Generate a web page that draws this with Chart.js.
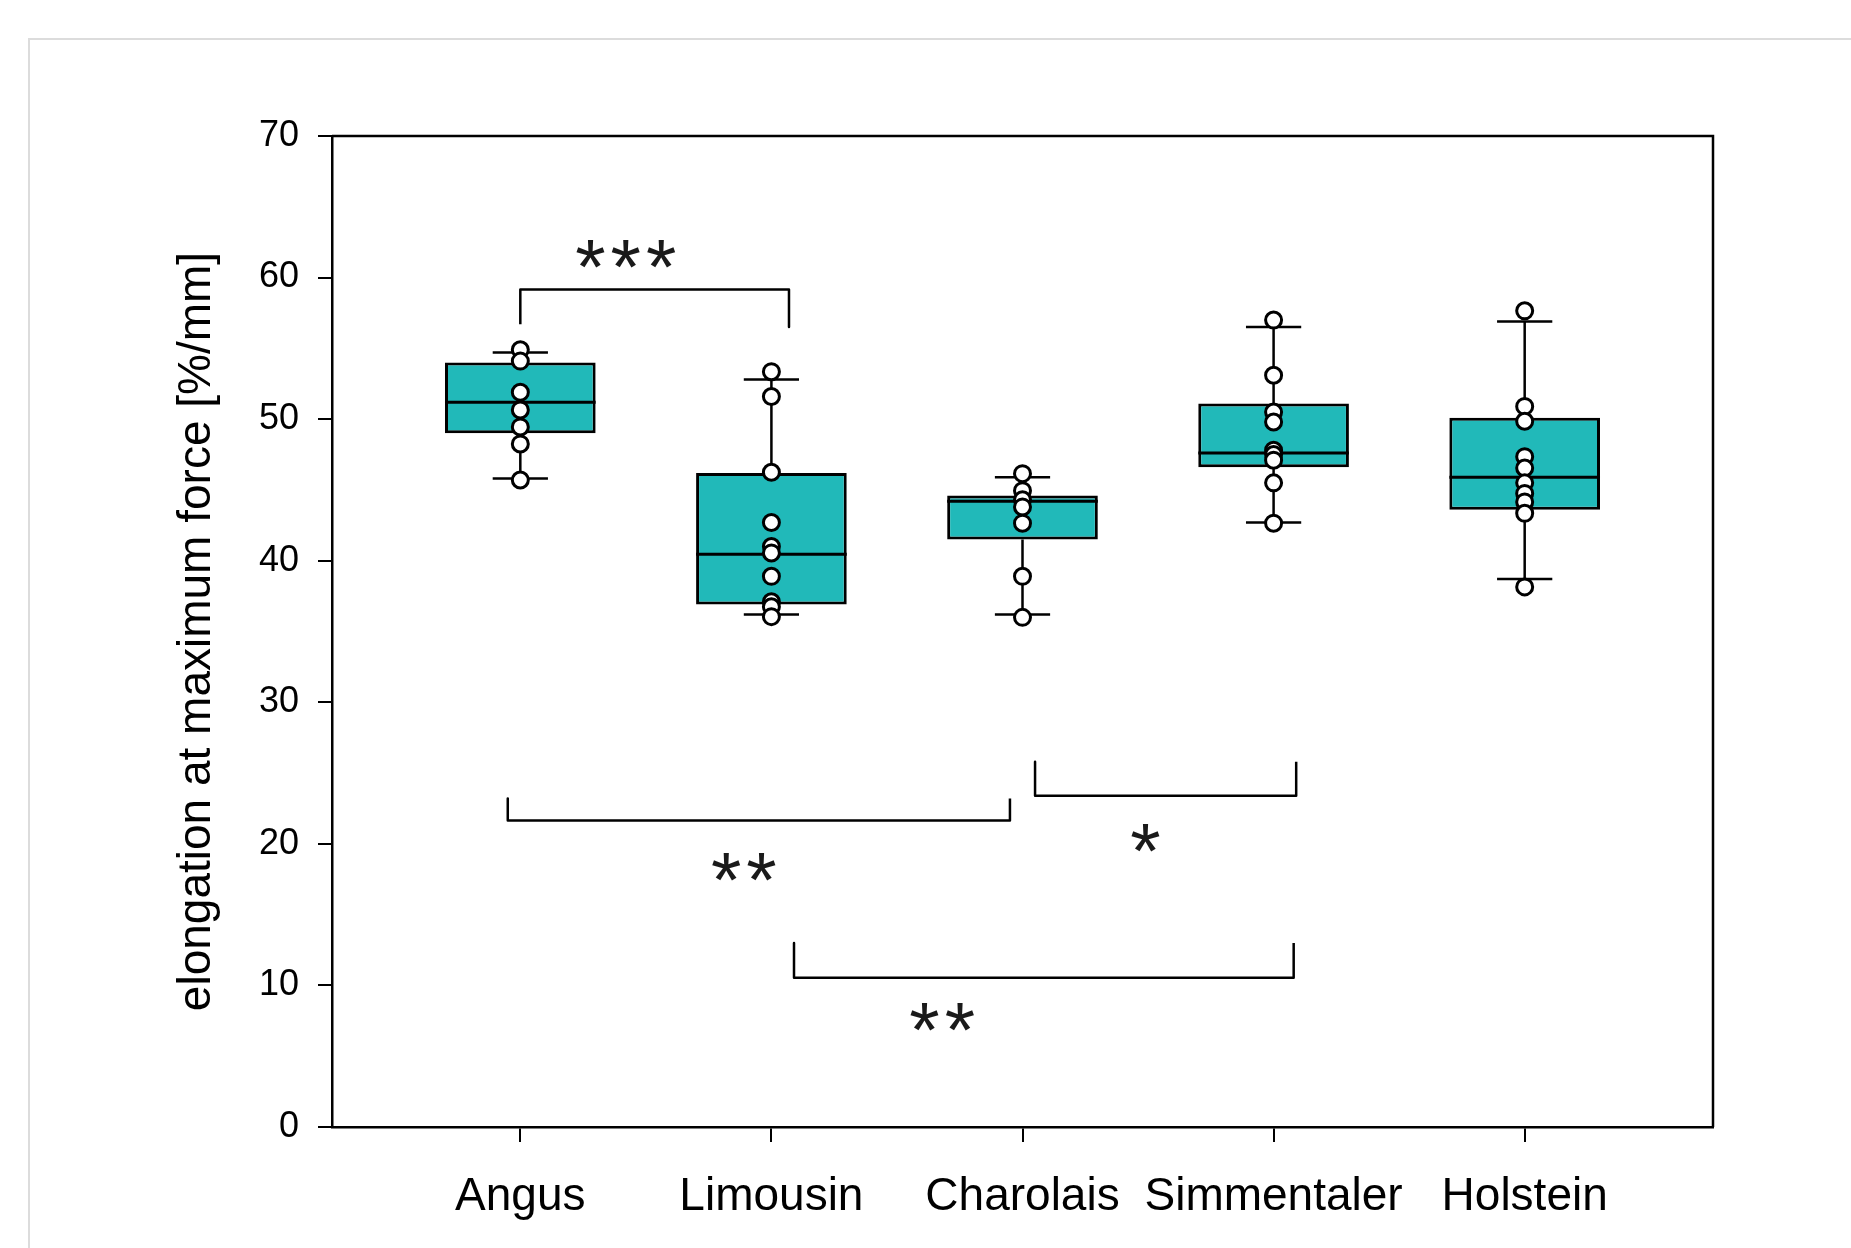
<!DOCTYPE html>
<html>
<head>
<meta charset="utf-8">
<script src="https://cdn.jsdelivr.net/npm/chart.js@4/dist/chart.umd.min.js"></script>
<style>
  html, body { margin: 0; padding: 0; background: #fff; overflow: hidden; }
  #frame { position: absolute; left: 28px; top: 38px; width: 1900px; height: 1300px;
           border-top: 2px solid #dcdcdc; border-left: 2px solid #dcdcdc; }
  #wrap { position: absolute; left: 0; top: 0; width: 1851px; height: 1248px; }
</style>
</head>
<body>
<div id="frame"></div>
<div id="wrap"><canvas id="boxChart"></canvas></div>
<script>
const categories = ['Angus', 'Limousin', 'Charolais', 'Simmentaler', 'Holstein'];
const yTicks = [0, 10, 20, 30, 40, 50, 60, 70];

// box statistics
const q1 = [49.0, 36.9, 41.5, 46.6, 43.6];
const medians = [51.2, 40.45, 44.2, 47.6, 45.9];
const q3 = [54.0, 46.2, 44.6, 51.1, 50.1];
const whiskerLow = [45.8, 36.2, 36.2, 42.7, 38.7];
const whiskerHigh = [54.7, 52.8, 45.9, 56.5, 56.9];

// individual measurements
const angusPts = [54.9, 54.1, 51.9, 50.65, 49.45, 48.25, 45.7];
const limousinPts = [53.35, 51.6, 46.25, 42.7, 41.0, 40.55, 38.9, 37.1, 36.75, 36.05];
const charolaisPts = [46.15, 44.95, 44.3, 43.8, 42.65, 38.9, 36.0];
const simmentalerPts = [57.0, 53.1, 50.5, 49.8, 47.8, 47.5, 47.1, 45.5, 42.65];
const holsteinPts = [57.65, 50.9, 49.85, 47.35, 46.55, 45.5, 44.75, 44.15, 43.35, 38.15];
const allPts = [angusPts, limousinPts, charolaisPts, simmentalerPts, holsteinPts];

// significance brackets (data units)
const bracketX1 = [0, -0.05, 2.05, 1.09];
const bracketX2 = [1.07, 1.95, 3.09, 3.08];
const bracketBar = [59.15, 21.65, 23.4, 10.55];
const bracketEnd1 = [56.7, 23.2, 25.8, 13.0];
const bracketEnd2 = [56.5, 23.2, 25.8, 13.0];
const starText = ['***', '**', '*', '**'];
const starX = [0.42, 0.89, 2.49, 1.68];
const starY = [61.7, 18.4, 20.4, 7.8];

const teal = '#21b9b9';
const boxHalf = 0.3, capHalf = 0.11;

// whiskers + caps, separated by gaps
const whiskerData = [];
const medianData = [];
categories.forEach((c, i) => {
  whiskerData.push({x: i, y: whiskerLow[i]}, {x: i, y: q1[i]}, {x: i, y: null});
  whiskerData.push({x: i, y: q3[i]}, {x: i, y: whiskerHigh[i]}, {x: i, y: null});
  whiskerData.push({x: i - capHalf, y: whiskerLow[i]}, {x: i + capHalf, y: whiskerLow[i]}, {x: i, y: null});
  whiskerData.push({x: i - capHalf, y: whiskerHigh[i]}, {x: i + capHalf, y: whiskerHigh[i]}, {x: i, y: null});
  medianData.push({x: i - boxHalf, y: medians[i]}, {x: i + boxHalf, y: medians[i]}, {x: i, y: null});
});

const pointData = [];
allPts.forEach((arr, i) => arr.forEach(v => pointData.push({x: i, y: v})));

const bracketSets = bracketX1.map((x1, k) => ({
  type: 'line',
  data: [
    {x: x1, y: bracketEnd1[k]}, {x: x1, y: bracketBar[k]},
    {x: bracketX2[k], y: bracketBar[k]}, {x: bracketX2[k], y: bracketEnd2[k]}
  ],
  borderColor: '#000', borderWidth: 2.5, pointRadius: 0, fill: false,
  tension: 0, borderJoinStyle: 'round', order: 1
}));

const framePlugin = {
  id: 'frame',
  afterDatasetsDraw(chart) {
    const {ctx, chartArea: a, scales} = chart;
    ctx.save();
    ctx.strokeStyle = '#000';
    ctx.lineWidth = 2.5;
    ctx.beginPath();
    ctx.moveTo(a.left, a.top); ctx.lineTo(a.right, a.top); ctx.lineTo(a.right, a.bottom);
    ctx.stroke();
    // significance stars
    ctx.fillStyle = '#1a1a1a';
    ctx.font = '78px "Liberation Sans", Arial, sans-serif';
    ctx.letterSpacing = '5px';
    ctx.textAlign = 'center';
    ctx.textBaseline = 'alphabetic';
    starText.forEach((t, k) => {
      const m = ctx.measureText(t);
      const px = scales.x.getPixelForValue(starX[k]);
      const py = scales.y.getPixelForValue(starY[k]);
      ctx.fillText(t, px + 2.5, py + (m.actualBoundingBoxAscent - m.actualBoundingBoxDescent) / 2);
    });
    ctx.restore();
  }
};

const font = '"Liberation Sans", Arial, sans-serif';

new Chart(document.getElementById('boxChart'), {
  type: 'bar',
  data: {
    datasets: [
      {
        type: 'scatter',
        data: pointData,
        pointRadius: 8,
        pointBackgroundColor: '#fff',
        pointBorderColor: '#000',
        pointBorderWidth: 3,
        order: 0
      },
      {
        type: 'line', data: medianData, borderColor: '#000', borderWidth: 3,
        pointRadius: 0, spanGaps: false, fill: false, order: 1
      },
      {
        type: 'line', data: whiskerData, borderColor: '#000', borderWidth: 2.5,
        pointRadius: 0, spanGaps: false, fill: false, order: 1
      },
      ...bracketSets,
      {
        type: 'bar',
        data: categories.map((c, i) => ({x: i, y: [q1[i], q3[i]]})),
        backgroundColor: teal,
        borderColor: '#000',
        borderWidth: 3,
        borderSkipped: false,
        barPercentage: 0.6,
        categoryPercentage: 1,
        order: 2
      }
    ]
  },
  options: {
    responsive: true,
    maintainAspectRatio: false,
    animation: false,
    layout: { padding: { left: 0, top: 136, right: 138, bottom: 0 } },
    plugins: { legend: { display: false }, tooltip: { enabled: false } },
    scales: {
      x: {
        type: 'linear',
        offset: false,
        min: -0.75,
        max: 4.75,
        afterBuildTicks: s => { s.ticks = categories.map((c, i) => ({value: i})); },
        afterFit: s => { s.height = 121; },
        ticks: {
          callback: v => categories[v],
          color: '#000',
          font: { family: font, size: 46 },
          padding: 28,
          maxRotation: 0,
          autoSkip: false
        },
        grid: { offset: false, drawOnChartArea: false, drawTicks: true, tickLength: 15, color: '#000', lineWidth: 2 },
        border: { display: true, color: '#000', width: 2.5 }
      },
      y: {
        min: 0,
        max: 70,
        afterBuildTicks: s => { s.ticks = yTicks.map(v => ({value: v})); },
        afterFit: s => { s.width = 332; },
        ticks: {
          color: '#000',
          font: { family: font, size: 36 },
          padding: 19
        },
        grid: { drawOnChartArea: false, drawTicks: true, tickLength: 14, color: '#000', lineWidth: 2 },
        border: { display: true, color: '#000', width: 2.5 },
        title: {
          display: true,
          text: 'elongation at maximum force [%/mm]',
          color: '#000',
          font: { family: font, size: 46 },
          padding: { top: 170, bottom: 0 }
        }
      }
    }
  },
  plugins: [framePlugin]
});
</script>
</body>
</html>
